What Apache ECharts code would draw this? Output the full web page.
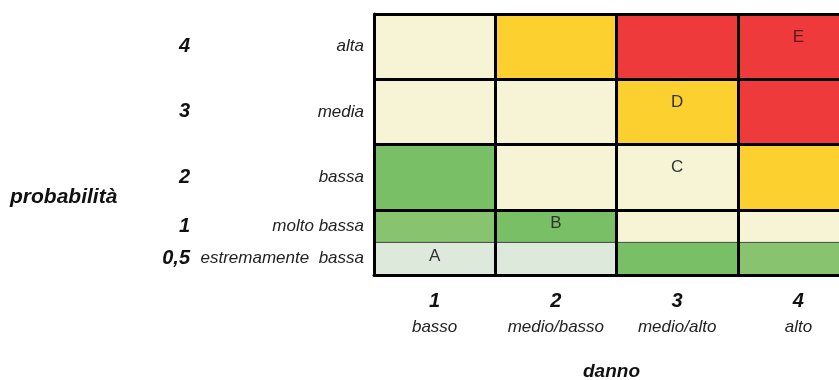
<!DOCTYPE html>
<html>
<head>
<meta charset="utf-8">
<title>matrice del rischio</title>
<script src="https://cdn.jsdelivr.net/npm/echarts@6/dist/echarts.min.js"></script>
<style>
  html, body { margin: 0; padding: 0; background: #fff; }
  #chart { width: 839px; height: 380px; }
</style>
</head>
<body>
<div id="chart"></div>
<script>
// danno (colonne)
const damageLevels = ['1', '2', '3', '4'];
const damageNames = ['basso', 'medio/basso', 'medio/alto', 'alto'];

// probabilità (righe, dal basso)
const probLevels = [0.5, 1, 2, 3, 4];
const probTicks = ['0,5', '1', '2', '3', '4'];
const probNames = ['estremamente  bassa', 'molto bassa', 'bassa', 'media', 'alta'];

// classe di rischio per ogni cella, righe da 0,5 a 4, colonne danno 1..4
const riskGrid = [
    ['pale', 'pale', 'green', 'light'],
    ['light', 'green', 'cream', 'cream'],
    ['green', 'cream', 'cream', 'yellow'],
    ['cream', 'cream', 'yellow', 'red'],
    ['cream', 'yellow', 'red', 'red']
];

// lettere nelle celle
const tagNames = ['A', 'B', 'C', 'D', 'E'];
const tagCols = [0, 1, 2, 2, 3];
const tagRows = [0, 1, 2, 3, 4];

const riskColors = {
    pale: '#dde9da',
    green: '#78bf65',
    light: '#88c46f',
    cream: '#f7f4d6',
    yellow: '#fcd12f',
    red: '#ee3a3a'
};

const font = "'Liberation Sans', Arial, sans-serif";

// ogni riga va dal livello precedente (o 0) al proprio livello
const cells = [];
riskGrid.forEach((row, r) => {
    const bottom = r === 0 ? 0 : probLevels[r - 1];
    row.forEach((cls, c) => {
        let tag = '';
        tagNames.forEach((t, i) => {
            if (tagCols[i] === c && tagRows[i] === r) tag = t;
        });
        cells.push({ value: [c, bottom, probLevels[r]], cls: cls, tag: tag });
    });
});

const labelMids = probLevels.map((v, i) => ((i === 0 ? 0 : probLevels[i - 1]) + v) / 2);

function renderCell(params, api) {
    const cell = cells[params.dataIndex];
    const p0 = api.coord([api.value(0), api.value(1)]);
    const p1 = api.coord([api.value(0), api.value(2)]);
    const w = api.size([1, 0])[0];
    const x = p0[0] - w / 2;
    const h = p0[1] - p1[1];
    const children = [{
        type: 'rect',
        shape: { x: x, y: p1[1], width: w, height: h },
        style: { fill: riskColors[cell.cls], stroke: '#4d4d4d', lineWidth: 1 }
    }];
    if (cell.tag) {
        children.push({
            type: 'text',
            style: {
                text: cell.tag,
                x: p0[0],
                y: p1[1] + Math.min(23, h / 2 - 2.5),
                align: 'center',
                verticalAlign: 'middle',
                fill: cell.cls === 'red' ? '#5a1a14' : '#333',
                font: '17px ' + font
            }
        });
    }
    return { type: 'group', children: children };
}

const chart = echarts.init(document.getElementById('chart'));

chart.setOption({
    animation: false,
    // la quarta colonna esce dal bordo destro, come nell'originale
    grid: { left: 374, top: 14, height: 261, width: 485, outerBoundsMode: 'none' },
    graphic: [{
        type: 'text',
        left: 10,
        top: 187,
        style: {
            text: 'probabilità',
            fill: '#111',
            font: 'italic bold 21px ' + font
        }
    }],
    xAxis: {
        type: 'category',
        data: damageLevels,
        z: 10,
        name: 'danno',
        nameLocation: 'middle',
        nameGap: 87,
        nameTextStyle: { color: '#111', fontSize: 19, fontStyle: 'italic', fontWeight: 'bold', fontFamily: font, padding: [0, 10, 0, 0] },
        axisLine: { show: true, lineStyle: { color: '#000', width: 3 } },
        axisTick: { show: false },
        splitLine: { show: true, interval: 0, lineStyle: { color: '#000', width: 3 } },
        axisLabel: {
            interval: 0,
            margin: 14,
            formatter: (v, i) => '{n|' + v + '}\n{d|' + damageNames[i] + '}',
            rich: {
                n: { fontSize: 20, fontStyle: 'italic', fontWeight: 'bold', color: '#111', lineHeight: 24, fontFamily: font },
                d: { fontSize: 17, fontStyle: 'italic', color: '#222', lineHeight: 28, fontFamily: font }
            }
        }
    },
    yAxis: {
        type: 'value',
        min: 0,
        max: 4,
        interval: 1,
        z: 10,
        axisLine: { show: true, lineStyle: { color: '#000', width: 3 } },
        axisTick: { show: false },
        splitLine: { show: true, lineStyle: { color: '#000', width: 3 } },
        axisLabel: {
            customValues: labelMids,
            margin: 10,
            formatter: (v) => {
                const i = labelMids.indexOf(v);
                if (i < 0) return '';
                return '{n|' + probTicks[i] + '}{d|' + probNames[i] + '}';
            },
            rich: {
                n: { fontSize: 20, fontStyle: 'italic', fontWeight: 'bold', color: '#111', fontFamily: font },
                d: { fontSize: 17, fontStyle: 'italic', color: '#222', width: 174, align: 'right', fontFamily: font }
            }
        }
    },
    series: [{
        type: 'custom',
        renderItem: renderCell,
        encode: { x: 0, y: [1, 2] },
        data: cells.map(c => c.value)
    }]
});
</script>
</body>
</html>
